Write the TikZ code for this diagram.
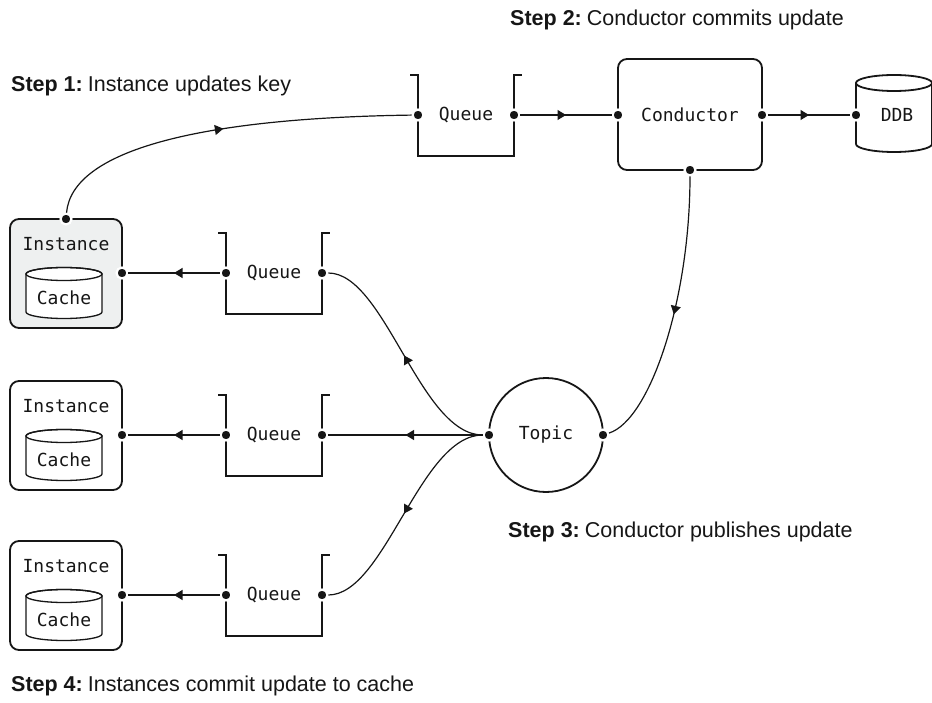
\documentclass[tikz,border=0pt]{standalone}
\usepackage{fontspec}
\setmainfont{Liberation Sans}
\newfontfamily\monofont{DejaVu Sans Mono}
\usetikzlibrary{arrows.meta,decorations.markings}
\definecolor{ink}{HTML}{161616}
\definecolor{panel}{HTML}{EEF0F0}
\newcommand{\steptag}[1]{\textbf{#1}\hspace{5pt}}

\begin{document}
\begin{tikzpicture}[x=1pt,y=-1pt,
  font=\monofont\fontsize{18}{21}\selectfont, text=ink,
  box/.style={draw=ink, line width=1.8pt, rounded corners=9pt, inner sep=0pt},
  bracket/.style={draw=ink, line width=1.8pt},
  dot/.style={circle, fill=ink, draw=white, line width=2.2pt, minimum size=11pt, inner sep=0pt, outer sep=0.8pt},
  wire/.style={draw=ink, line width=1.2pt, postaction=decorate,
    decoration={markings, mark=at position 0.5 with {\arrow{Triangle[length=8.5pt,width=10pt]}}}},
  steplabel/.style={anchor=base west, font=\fontsize{21.5}{25}\selectfont, text=ink, inner sep=0pt},
]
\useasboundingbox (0,0) rectangle (932,703);

% step captions
\node[steplabel] (s1) at (11,92)  {\steptag{Step 1:}Instance updates key};
\node[steplabel] (s2) at (510,26) {\steptag{Step 2:}Conductor commits update};
\node[steplabel] (s3) at (508,537) {\steptag{Step 3:}Conductor publishes update};
\node[steplabel] (s4) at (11,691) {\steptag{Step 4:}Instances commit update to cache};

% instances, each holding a cache
\foreach \i/\y/\f in {1/273/panel, 2/435/white, 3/595/white}{
  \node[box, fill=\f, minimum width=112pt, minimum height=109pt] (inst\i) at (66,\y+0.5) {};
  \node (instlbl\i) at (66,\y-29) {Instance};
  \draw[ink, line width=1.3pt, fill=white]
    (26pt,-\y pt-1pt) -- (26pt,-\y pt-39pt)
    arc[start angle=180, end angle=360, x radius=38pt, y radius=6.5pt]
    -- (102pt,-\y pt-1pt) arc[start angle=0, end angle=180, x radius=38pt, y radius=6.5pt] -- cycle;
  \draw[ink, line width=1.3pt] (64pt,-\y pt-1pt) ellipse[x radius=38pt, y radius=6.5pt];
  \node (cache\i) at (64,\y+25) {Cache};
}

% queues (open brackets)
\foreach \n/\xa/\xb/\y in {0/418/514/115, 1/226/322/273, 2/226/322/435, 3/226/322/595}{
  \draw[bracket] (\xa-8,\y-40) -- (\xa,\y-40) -- (\xa,\y+41) -- (\xb,\y+41) -- (\xb,\y-40) -- (\xb+8,\y-40);
  \node (q\n) at ({(\xa+\xb)/2},\y) {Queue};
}

% conductor
\node[box, minimum width=144pt, minimum height=111pt] (cond) at (690,114.5) {Conductor};

% DDB store
\draw[ink, line width=1.8pt]
  (856pt,-83pt) -- (856pt,-144pt) arc[start angle=180, end angle=360, x radius=38pt, y radius=8pt]
  -- (932pt,-83pt);
\draw[ink, line width=1.8pt] (894pt,-83pt) ellipse[x radius=38pt, y radius=8pt];
\node (ddb) at (897,115) {DDB};

% topic
\node[circle, draw=ink, line width=1.8pt, minimum size=114pt, inner sep=0pt] (topic) at (546,435) {Topic};

% ports
\node[dot] (i1top) at (66,219) {};
\node[dot] (i1R) at (122,273) {};
\node[dot] (i2R) at (122,435) {};
\node[dot] (i3R) at (122,595) {};
\node[dot] (q0L) at (418,115) {};
\node[dot] (q0R) at (514,115) {};
\node[dot] (q1L) at (226,273) {};
\node[dot] (q1R) at (322,273) {};
\node[dot] (q2L) at (226,435) {};
\node[dot] (q2R) at (322,435) {};
\node[dot] (q3L) at (226,595) {};
\node[dot] (q3R) at (322,595) {};
\node[dot] (condL) at (618,115) {};
\node[dot] (condR) at (762,115) {};
\node[dot] (condB) at (690,170) {};
\node[dot] (ddbL) at (856,115) {};
\node[dot] (topL) at (489,435) {};
\node[dot] (topR) at (603,435) {};

% connectors
\draw[wire] (i1top) .. controls (72,150) and (200,118) .. (q0L);
\draw[wire] (q0R) -- (condL);
\draw[wire] (condR) -- (ddbL);
\draw[wire] (condB) .. controls (690,300) and (650,420) .. (topR);
\draw[wire] (topL) .. controls (420,435) and (385,273) .. (q1R);
\draw[wire] (topL) -- (q2R);
\draw[wire] (topL) .. controls (420,435) and (385,595) .. (q3R);
\draw[wire] (q1L) -- (i1R);
\draw[wire] (q2L) -- (i2R);
\draw[wire] (q3L) -- (i3R);
\end{tikzpicture}
\end{document}
